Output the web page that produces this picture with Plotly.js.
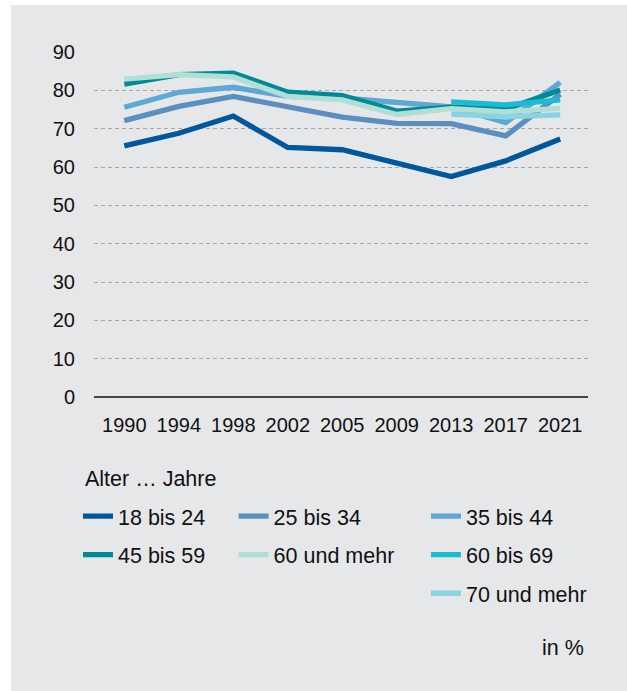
<!DOCTYPE html>
<html>
<head>
<meta charset="utf-8">
<script src="https://cdn.plot.ly/plotly-3.0.1.min.js"></script>
<style>
  html, body { margin: 0; padding: 0; background: #ffffff; }
  #chart { position: absolute; left: 11px; top: 5px; width: 616px; height: 686px; }
</style>
</head>
<body>
<div id="chart"></div>
<script>
// Data (in %)
const years = ['1990', '1994', '1998', '2002', '2005', '2009', '2013', '2017', '2021'];
const age18to24 = [65.5, 68.8, 73.3, 65.1, 64.5, 61.1, 57.5, 61.6, 67.3];
const age25to34 = [72.1, 75.8, 78.4, 75.6, 73.0, 71.4, 71.3, 68.1, 79.0];
const age35to44 = [75.6, 79.5, 80.8, 78.4, 78.0, 76.8, 75.7, 71.6, 82.1];
const age45to59 = [81.6, 84.1, 84.5, 79.5, 78.6, 74.6, 75.6, 75.1, 80.1];
const age60plus = [82.9, 84.1, 83.5, 78.4, 77.5, 73.7, 75.2, 74.4, 75.3];
const years6069 = ['2013', '2017', '2021'];
const age60to69 = [77.0, 76.2, 77.5];
const age70plus = [73.8, 73.1, 73.6];

const seriesNames = ['18 bis 24', '25 bis 34', '35 bis 44', '45 bis 59', '60 und mehr', '60 bis 69', '70 und mehr'];
const seriesColors = ['#00589c', '#5b8fbf', '#5fa8d3', '#008a96', '#b2dfd5', '#1bbbd3', '#8ad3e3'];
const seriesX = [years, years, years, years, years, years6069, years6069];
const seriesY = [age18to24, age25to34, age35to44, age45to59, age60plus, age60to69, age70plus];
const seriesLegend = ['legend', 'legend2', 'legend3', 'legend', 'legend2', 'legend3', 'legend3'];
const yTicks = [0, 10, 20, 30, 40, 50, 60, 70, 80, 90];

const FONT = 'Liberation Sans, Arial, Helvetica, sans-serif';
const TXT = '#111111';
const LEGSIZE = 21.5;

const traces = seriesNames.map((name, i) => ({
  type: 'scatter',
  mode: 'lines',
  name: name,
  x: seriesX[i],
  y: seriesY[i],
  line: { color: seriesColors[i], width: 5.3 },
  legend: seriesLegend[i],
  legendgroup: 'g' + i,
  hoverinfo: 'skip'
}));

const legendBase = {
  orientation: 'v',
  xanchor: 'left',
  yanchor: 'top',
  y: -0.286,
  bgcolor: 'rgba(0,0,0,0)',
  borderwidth: 0,
  font: { family: FONT, size: LEGSIZE, color: TXT },
  tracegroupgap: 7.6,
  itemwidth: 30,
  itemclick: false,
  itemdoubleclick: false
};

const layout = {
  width: 616,
  height: 686,
  paper_bgcolor: '#e6e7e9',
  plot_bgcolor: '#e6e7e9',
  margin: { l: 83, r: 39, t: 47.3, b: 294.3 },
  font: { family: FONT, size: 20, color: TXT },
  showlegend: true,
  xaxis: {
    type: 'category',
    range: [-0.556, 8.51],
    showgrid: false,
    showline: false,
    zeroline: false,
    ticks: '',
    ticklabelstandoff: 14,
    tickfont: { family: FONT, size: 20, color: TXT },
    fixedrange: true
  },
  yaxis: {
    range: [0, 90],
    tickvals: yTicks,
    ticktext: yTicks.map(String),
    showgrid: true,
    gridcolor: '#a6a7a9',
    gridwidth: 1,
    griddash: '4px,3px',
    zeroline: true,
    zerolinecolor: '#454545',
    zerolinewidth: 1.3,
    showline: false,
    ticks: '',
    ticklabelstandoff: 18,
    tickfont: { family: FONT, size: 20, color: TXT },
    fixedrange: true
  },
  legend: Object.assign({}, legendBase, { x: -0.0324 }),
  legend2: Object.assign({}, legendBase, { x: 0.2826 }),
  legend3: Object.assign({}, legendBase, { x: 0.672 }),
  annotations: [
    {
      text: 'Alter … Jahre',
      xref: 'paper', yref: 'paper',
      x: -0.0219, y: -0.239,
      xanchor: 'left', yanchor: 'middle',
      showarrow: false,
      font: { family: FONT, size: LEGSIZE, color: TXT }
    },
    {
      text: 'in %',
      xref: 'paper', yref: 'paper',
      x: 0.9953, y: -0.7268,
      xanchor: 'right', yanchor: 'middle',
      showarrow: false,
      font: { family: FONT, size: LEGSIZE, color: TXT }
    }
  ]
};

Plotly.newPlot('chart', traces, layout, { displayModeBar: false, staticPlot: true });
</script>
</body>
</html>
